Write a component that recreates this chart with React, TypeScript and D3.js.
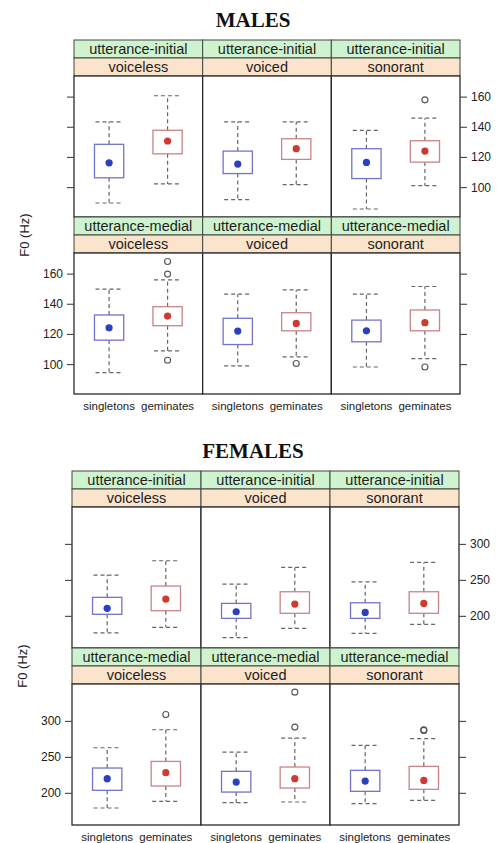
import React from 'react'
import * as d3 from 'd3'

const positions = ['utterance-initial', 'utterance-medial']
const manners = ['voiceless', 'voiced', 'sonorant']
const groups = ['singletons', 'geminates']

// order: position > manner > group (singletons, geminates)
const maleLow = [89.8, 102.4, 92, 102, 85.8, 101.3, 94.7, 109.1, 99.1, 105.1, 98.4, 104]
const maleQ1 = [106.5, 122.4, 109.3, 118.7, 106, 116.9, 116.2, 125.8, 113.3, 122.4, 115.1, 122.4]
const maleMed = [116.4, 130.9, 115.6, 125.8, 116.7, 124.2, 124.4, 132.2, 122.2, 127.3, 122.4, 127.8]
const maleQ3 = [128.7, 138, 124.2, 132.4, 125.8, 131.1, 132.9, 138.4, 130.7, 134.4, 129.5, 136.2]
const maleHigh = [143.6, 160.9, 143.6, 143.6, 138, 146, 150, 156.2, 146.7, 149.5, 146.7, 151.8]
const maleOut = [[], [], [], [], [], [158.2], [], [168.4, 160, 102.9], [], [100.7], [], [98.4]]
const maleTicks = [100, 120, 140, 160]

const femaleLow = [177, 184.7, 170.3, 183.3, 176.4, 188.9, 179.6, 188.9, 187, 188, 185.6, 190.3]
const femaleQ1 = [202.8, 207.8, 197.2, 204.2, 197.2, 204.2, 204.2, 210.2, 201.8, 207.4, 202.8, 205.6]
const femaleMed = [211.1, 224, 206.4, 217.1, 205.5, 218, 220.4, 228.7, 215.7, 220.4, 217.1, 218]
const femaleQ3 = [226.4, 242.1, 218, 234.2, 218.9, 234.2, 235.2, 244.4, 230.6, 236.6, 232, 237.5]
const femaleHigh = [257.4, 277.3, 244.9, 268, 248, 275, 263.4, 288.4, 257.4, 276.8, 266.7, 276]
const femaleOut = [[], [], [], [], [], [], [], [309.7], [], [340.7, 292.1], [], [287.5, 288.5]]
const femaleTicks = [200, 250, 300]

const font = '"Liberation Sans", Arial, sans-serif'
const boxStroke = ['#7373cc', '#c98585']
const dotFill = ['#2b3fc2', '#cf3a2e']
const stripH = 18
const plotH = 141

function Block(props: any) {
  const { title, titleY, top, left, right, lo, q1, med, q3, hi, out, domain, ticks, labelY } = props
  const colW = (right - left) / 3
  const rows = positions.map((p, r) => {
    const stripTop = top + r * (2 * stripH + plotH)
    const plotTop = stripTop + 2 * stripH
    const y = d3.scaleLinear().domain(domain).range([plotTop + plotH, plotTop])
    return { p, r, stripTop, plotTop, y }
  })
  const bottom = rows[1].plotTop + plotH

  return (
    <g>
      <text x={253} y={titleY} textAnchor="middle" fontFamily='"Liberation Serif", "DejaVu Serif", serif'
        fontWeight="bold" fontSize={21} fill="#111">{title}</text>
      <text transform={`translate(${labelY.x},${labelY.y}) rotate(-90)`} textAnchor="middle"
        fontFamily={font} fontSize={13} fill="#222">F0 (Hz)</text>
      {rows.map(({ p, r, stripTop, plotTop, y }) => (
        <g key={p}>
          {manners.map((m, c) => {
            const c0 = left + c * colW
            const x = d3.scaleLinear().domain([0.4, 2.6]).range([c0, c0 + colW])
            const hw = (x(1.25) - x(1))
            return (
              <g key={m}>
                <rect x={c0} y={stripTop} width={colW} height={stripH} fill="#cff3cf" stroke="#444" strokeWidth={1} />
                <rect x={c0} y={stripTop + stripH} width={colW} height={stripH} fill="#fbe4cc" stroke="#444" strokeWidth={1} />
                <text x={c0 + colW / 2} y={stripTop + 14} textAnchor="middle" fontFamily={font} fontSize={14.5} fill="#1e1e1e">{p}</text>
                <text x={c0 + colW / 2} y={stripTop + stripH + 14} textAnchor="middle" fontFamily={font} fontSize={14.5} fill="#1e1e1e">{m}</text>
                <rect x={c0} y={plotTop} width={colW} height={plotH} fill="white" stroke="#2a2a2a" strokeWidth={1.3} />
                {groups.map((g, k) => {
                  const i = r * 6 + c * 2 + k
                  const cx = x(k + 1)
                  return (
                    <g key={g}>
                      <line x1={cx} x2={cx} y1={y(q3[i])} y2={y(hi[i])} stroke="#666" strokeWidth={1.2} strokeDasharray="4 3" />
                      <line x1={cx} x2={cx} y1={y(q1[i])} y2={y(lo[i])} stroke="#666" strokeWidth={1.2} strokeDasharray="4 3" />
                      <line x1={cx - hw + 1} x2={cx + hw - 1} y1={y(hi[i])} y2={y(hi[i])} stroke="#666" strokeWidth={1.2} strokeDasharray="4 3" />
                      <line x1={cx - hw + 1} x2={cx + hw - 1} y1={y(lo[i])} y2={y(lo[i])} stroke="#666" strokeWidth={1.2} strokeDasharray="4 3" />
                      <rect x={cx - hw} y={y(q3[i])} width={2 * hw} height={y(q1[i]) - y(q3[i])} fill="white" stroke={boxStroke[k]} strokeWidth={1.3} />
                      <circle cx={cx} cy={y(med[i])} r={3.6} fill={dotFill[k]} />
                      {out[i].map((v: number, j: number) => (
                        <circle key={j} cx={cx} cy={y(v)} r={3} fill="none" stroke="#555" strokeWidth={1.1} />
                      ))}
                    </g>
                  )
                })}
                {r === 1 && groups.map((g, k) => (
                  <text key={g} x={x(k + 1)} y={bottom + 16} textAnchor="middle" fontFamily={font} fontSize={11.5} fill="#222">{g}</text>
                ))}
              </g>
            )
          })}
          {ticks.map((t: number) => (
            <g key={t}>
              <line x1={left - 7} x2={left} y1={y(t)} y2={y(t)} stroke="#444" strokeWidth={1.1} />
              <line x1={right} x2={right + 7} y1={y(t)} y2={y(t)} stroke="#444" strokeWidth={1.1} />
              {r === 1 && <text x={left - 11} y={y(t) + 4} textAnchor="end" fontFamily={font} fontSize={12} fill="#222">{t}</text>}
              {r === 0 && <text x={right + 11} y={y(t) + 4} textAnchor="start" fontFamily={font} fontSize={12} fill="#222">{t}</text>}
            </g>
          ))}
        </g>
      ))}
    </g>
  )
}

export default function App() {
  return (
    <svg width={499} height={843} style={{ position: 'absolute', left: 0, top: 0, background: 'white' }}>
      <Block title="MALES" titleY={27} top={40} left={74} right={460}
        lo={maleLow} q1={maleQ1} med={maleMed} q3={maleQ3} hi={maleHigh} out={maleOut}
        domain={[80.5, 174]} ticks={maleTicks} labelY={{ x: 29, y: 235 }} />
      <Block title="FEMALES" titleY={458} top={471} left={72} right={459}
        lo={femaleLow} q1={femaleQ1} med={femaleMed} q3={femaleQ3} hi={femaleHigh} out={femaleOut}
        domain={[156, 352]} ticks={femaleTicks} labelY={{ x: 27, y: 666 }} />
    </svg>
  )
}
